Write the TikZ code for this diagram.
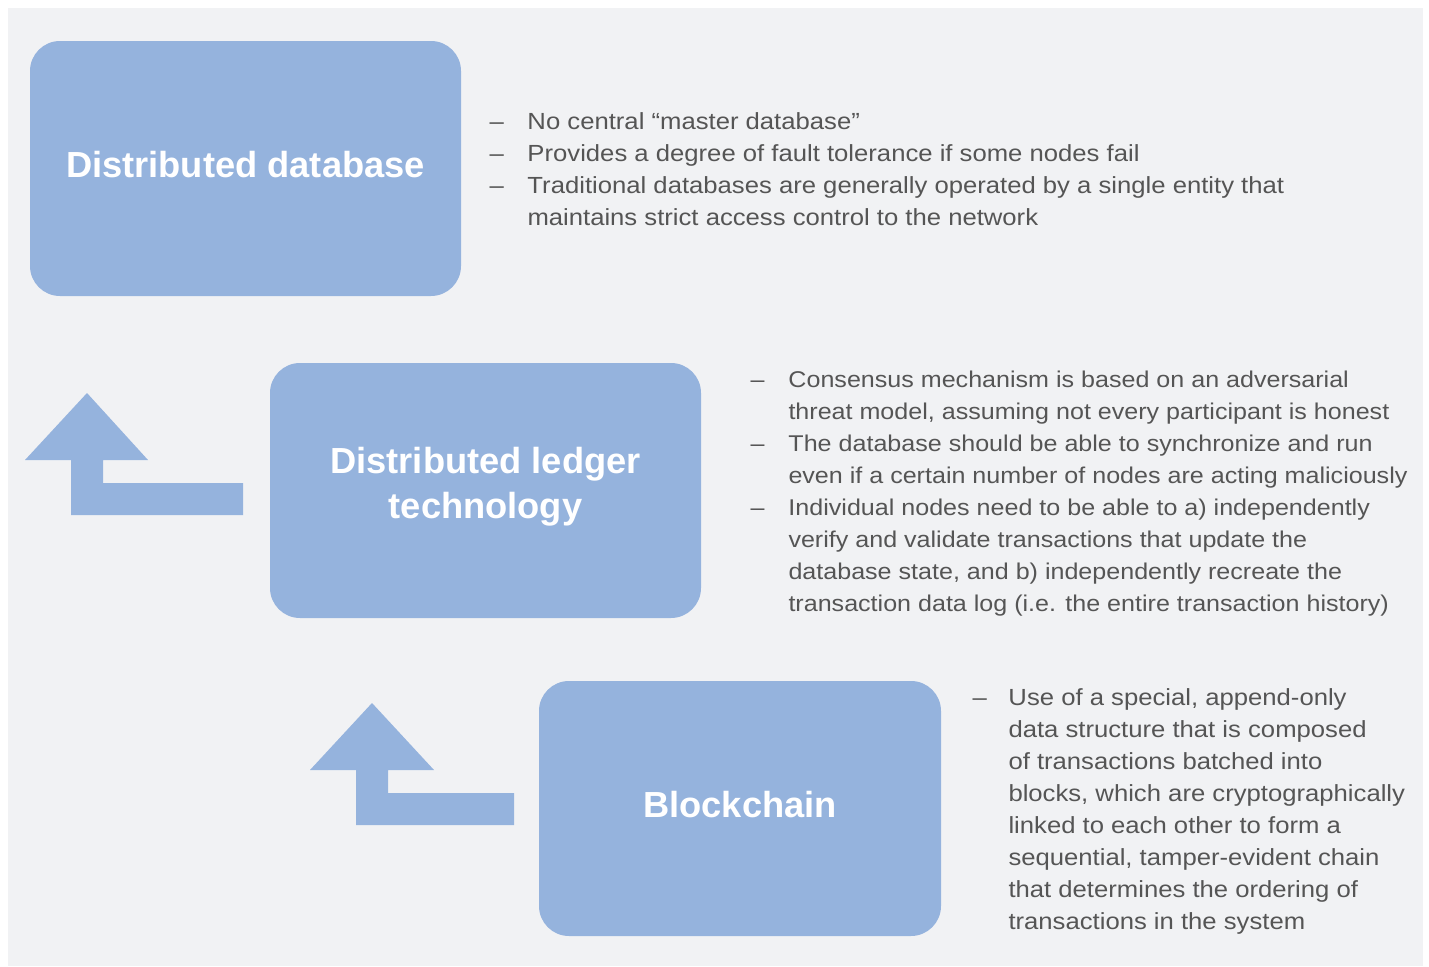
\documentclass[tikz,border=0pt]{standalone}
\usepackage{fontspec}
\setmainfont{Liberation Sans}
\newfontfamily\bodyfont[FakeStretch=1.1]{Liberation Sans}
\definecolor{boxblue}{RGB}{149,179,221}
\definecolor{panelgray}{RGB}{241,242,244}
\definecolor{textgray}{RGB}{85,85,85}
\tikzset{every picture/.style={line width=0.75pt}}
\tikzset{
  stage/.style={fill=boxblue, rounded corners=22.5pt, minimum width=323.25pt, minimum height=191.25pt, inner sep=0pt},
  stagetitle/.style={inner sep=0pt, yshift=3pt, text=white, align=center, font=\bfseries\fontsize{27.2}{33.75}\selectfont},
  notes/.style={anchor=base west, inner sep=0pt, text=textgray, font=\bodyfont\fontsize{17.5}{24}\selectfont},
  bigarrow/.style={fill=boxblue, draw=none}
}

\begin{document}
\begin{tikzpicture}[x=0.75pt,y=0.75pt,yscale=-1,xscale=1]
\useasboundingbox (0,0) rectangle (1429,967);

%Shape: Rectangle [id:panel]
\fill[panelgray] (8,8) rectangle (1423,966);

%Shape: Rounded Rect [id:ddb]
\node[stage] (ddb) at (245.5,168.5) {};
%Shape: Rounded Rect [id:dlt]
\node[stage] (dlt) at (485.5,490.5) {};
%Shape: Rounded Rect [id:chain]
\node[stage, minimum width=301.5pt] (chain) at (740,808.5) {};

% Text Node
\node[stagetitle] (ddbtitle) at (ddb.center) {Distributed database};
% Text Node
\node[stagetitle] (dlttitle) at (dlt.center) {Distributed ledger\\technology};
% Text Node
\node[stagetitle] (chaintitle) at (chain.center) {Blockchain};

%Shape: Up Arrow [id:upA]
\fill[bigarrow] (87,393) -- (148,460) -- (103,460) -- (103,483) -- (243,483) -- (243,515) -- (71,515) -- (71,460) -- (25,460) -- cycle ;
%Shape: Up Arrow [id:upB]
\fill[bigarrow] (372,703) -- (434,770) -- (388,770) -- (388,793) -- (514,793) -- (514,825) -- (356,825) -- (356,770) -- (310,770) -- cycle ;

% Text Node
\node[notes] (ddbnotes) at (489,129) {\begin{tabular}[t]{@{}p{28.5pt}@{}l@{}}
– & No central “master database”\\
– & Provides a degree of fault tolerance if some nodes fail\\
– & Traditional databases are generally operated by a single entity that\\
  & maintains strict access control to the network
\end{tabular}};
% Text Node
\node[notes, font=\bodyfont\fontsize{17.1}{24}\selectfont] (dltnotes) at (750,387) {\begin{tabular}[t]{@{}p{28.5pt}@{}l@{}}
– & Consensus mechanism is based on an adversarial\\
  & threat model, assuming not every participant is honest\\
– & The database should be able to synchronize and run\\
  & even if a certain number of nodes are acting maliciously\\
– & Individual nodes need to be able to a) independently\\
  & verify and validate transactions that update the\\
  & database state, and b) independently recreate the\\
  & transaction data log (i.e. the entire transaction history)
\end{tabular}};
% Text Node
\node[notes] (chainnotes) at (972,705) {\begin{tabular}[t]{@{}p{27pt}@{}l@{}}
– & Use of a special, append-only\\
  & data structure that is composed\\
  & of transactions batched into\\
  & blocks, which are cryptographically\\
  & linked to each other to form a\\
  & sequential, tamper-evident chain\\
  & that determines the ordering of\\
  & transactions in the system
\end{tabular}};

\end{tikzpicture}
\end{document}
